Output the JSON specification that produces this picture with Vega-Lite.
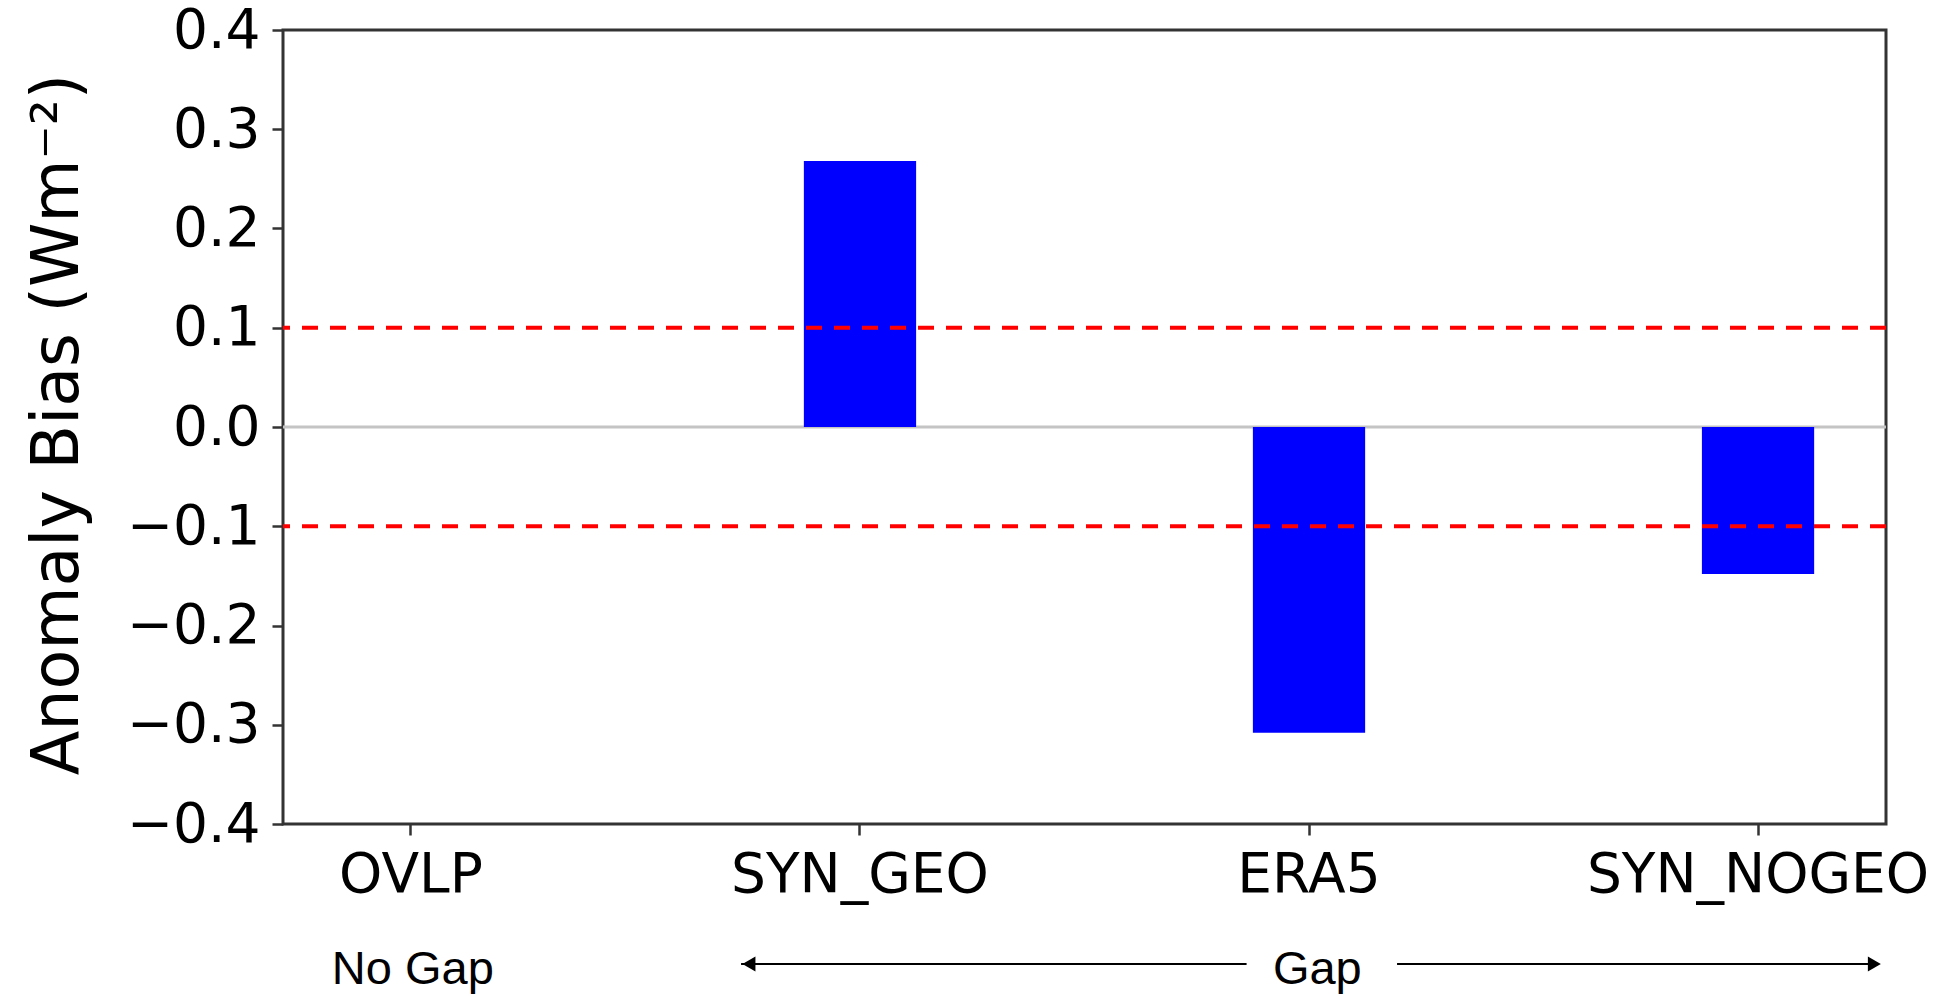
{
  "$schema": "https://vega.github.io/schema/vega-lite/v6.json",
  "width": 1603,
  "height": 794,
  "autosize": {"type": "none"},
  "padding": {"left": 283, "top": 30, "right": 56, "bottom": 173},
  "background": "white",
  "config": {
    "view": {"stroke": "#333333", "strokeWidth": 3},
    "axis": {
      "domain": false,
      "grid": false,
      "ticks": true,
      "tickColor": "#333333",
      "tickWidth": 2.5,
      "tickSize": 11,
      "labelFont": "DejaVu Sans",
      "labelFontSize": 55,
      "labelLimit": 0,
      "labelColor": "#000000",
      "titleFont": "DejaVu Sans",
      "titleFontWeight": "normal",
      "titleColor": "#000000"
    }
  },
  "datasets": {
    "bias": [
      {"model": "OVLP", "bias": 0},
      {"model": "SYN_GEO", "bias": 0.268},
      {"model": "ERA5", "bias": -0.308},
      {"model": "SYN_NOGEO", "bias": -0.148}
    ],
    "refs": [{"level": 0.1}, {"level": -0.1}],
    "zero": [{"level": 0}],
    "notes": [
      {"label": "No Gap", "pos": 0, "level": -0.561},
      {"label": "Gap", "pos": 2.02, "level": -0.561}
    ],
    "arrows": [
      {"from": 0.733, "to": 1.862, "level": -0.541},
      {"from": 2.198, "to": 3.26, "level": -0.541}
    ],
    "heads": [
      {"side": "left", "pos": 0.7506, "level": -0.541},
      {"side": "right", "pos": 3.264, "level": -0.541}
    ]
  },
  "layer": [
    {
      "data": {"name": "zero"},
      "mark": {"type": "rule", "color": "#c4c4c4", "strokeWidth": 3},
      "encoding": {
        "y": {"field": "level", "type": "quantitative", "title": "Anomaly Bias (Wm⁻²)"}
      }
    },
    {
      "data": {"name": "bias"},
      "mark": {"type": "bar", "color": "#0000ff"},
      "encoding": {
        "x": {
          "field": "model",
          "type": "nominal",
          "sort": null,
          "scale": {"domain": ["OVLP", "SYN_GEO", "ERA5", "SYN_NOGEO"], "paddingInner": 0.75, "paddingOuter": 0.16},
          "axis": {"title": null, "labelAngle": 0, "labelBaseline": "alphabetic", "labelPadding": 56, "labelLimit": 0}
        },
        "y": {
          "field": "bias",
          "type": "quantitative",
          "title": "Anomaly Bias (Wm⁻²)",
          "scale": {"domain": [-0.4, 0.4], "nice": false, "zero": false},
          "axis": {
            "values": [-0.4, -0.3, -0.2, -0.1, 0, 0.1, 0.2, 0.3, 0.4],
            "labelExpr": "replace(format(datum.value, '.1f'), '-', '−')",
            "labelPadding": 12,
            "titleFontSize": 65,
            "titleAngle": -90,
            "titleBaseline": "alphabetic",
            "titleAlign": "center",
            "titleX": -206,
            "titleY": 394
          }
        }
      }
    },
    {
      "data": {"name": "refs"},
      "mark": {"type": "rule", "color": "#ff0000", "strokeWidth": 4, "strokeDash": [16, 12]},
      "encoding": {
        "y": {"field": "level", "type": "quantitative", "title": "Anomaly Bias (Wm⁻²)"}
      }
    },
    {
      "data": {"name": "arrows"},
      "mark": {"type": "rule", "color": "#000000", "strokeWidth": 2},
      "encoding": {
        "x": {"field": "from", "type": "quantitative", "scale": {"domain": [-0.29, 3.29], "nice": false, "zero": false}, "axis": null},
        "x2": {"field": "to"},
        "y": {"field": "level", "type": "quantitative", "title": "Anomaly Bias (Wm⁻²)"}
      }
    },
    {
      "data": {"name": "heads"},
      "transform": [{"filter": "datum.side === 'left'"}],
      "mark": {"type": "point", "shape": "triangle-left", "filled": true, "color": "#000000", "size": 225, "opacity": 1},
      "encoding": {
        "x": {"field": "pos", "type": "quantitative", "scale": {"domain": [-0.29, 3.29], "nice": false, "zero": false}, "axis": null},
        "y": {"field": "level", "type": "quantitative", "title": "Anomaly Bias (Wm⁻²)"}
      }
    },
    {
      "data": {"name": "heads"},
      "transform": [{"filter": "datum.side === 'right'"}],
      "mark": {"type": "point", "shape": "triangle-right", "filled": true, "color": "#000000", "size": 225, "opacity": 1},
      "encoding": {
        "x": {"field": "pos", "type": "quantitative", "scale": {"domain": [-0.29, 3.29], "nice": false, "zero": false}, "axis": null},
        "y": {"field": "level", "type": "quantitative", "title": "Anomaly Bias (Wm⁻²)"}
      }
    },
    {
      "data": {"name": "notes"},
      "mark": {"type": "text", "font": "Liberation Sans", "fontSize": 47, "color": "#000000", "align": "center", "baseline": "alphabetic"},
      "encoding": {
        "x": {"field": "pos", "type": "quantitative", "scale": {"domain": [-0.29, 3.29], "nice": false, "zero": false}, "axis": null},
        "y": {"field": "level", "type": "quantitative", "title": "Anomaly Bias (Wm⁻²)"},
        "text": {"field": "label"}
      }
    }
  ],
  "resolve": {"scale": {"x": "independent"}}
}
